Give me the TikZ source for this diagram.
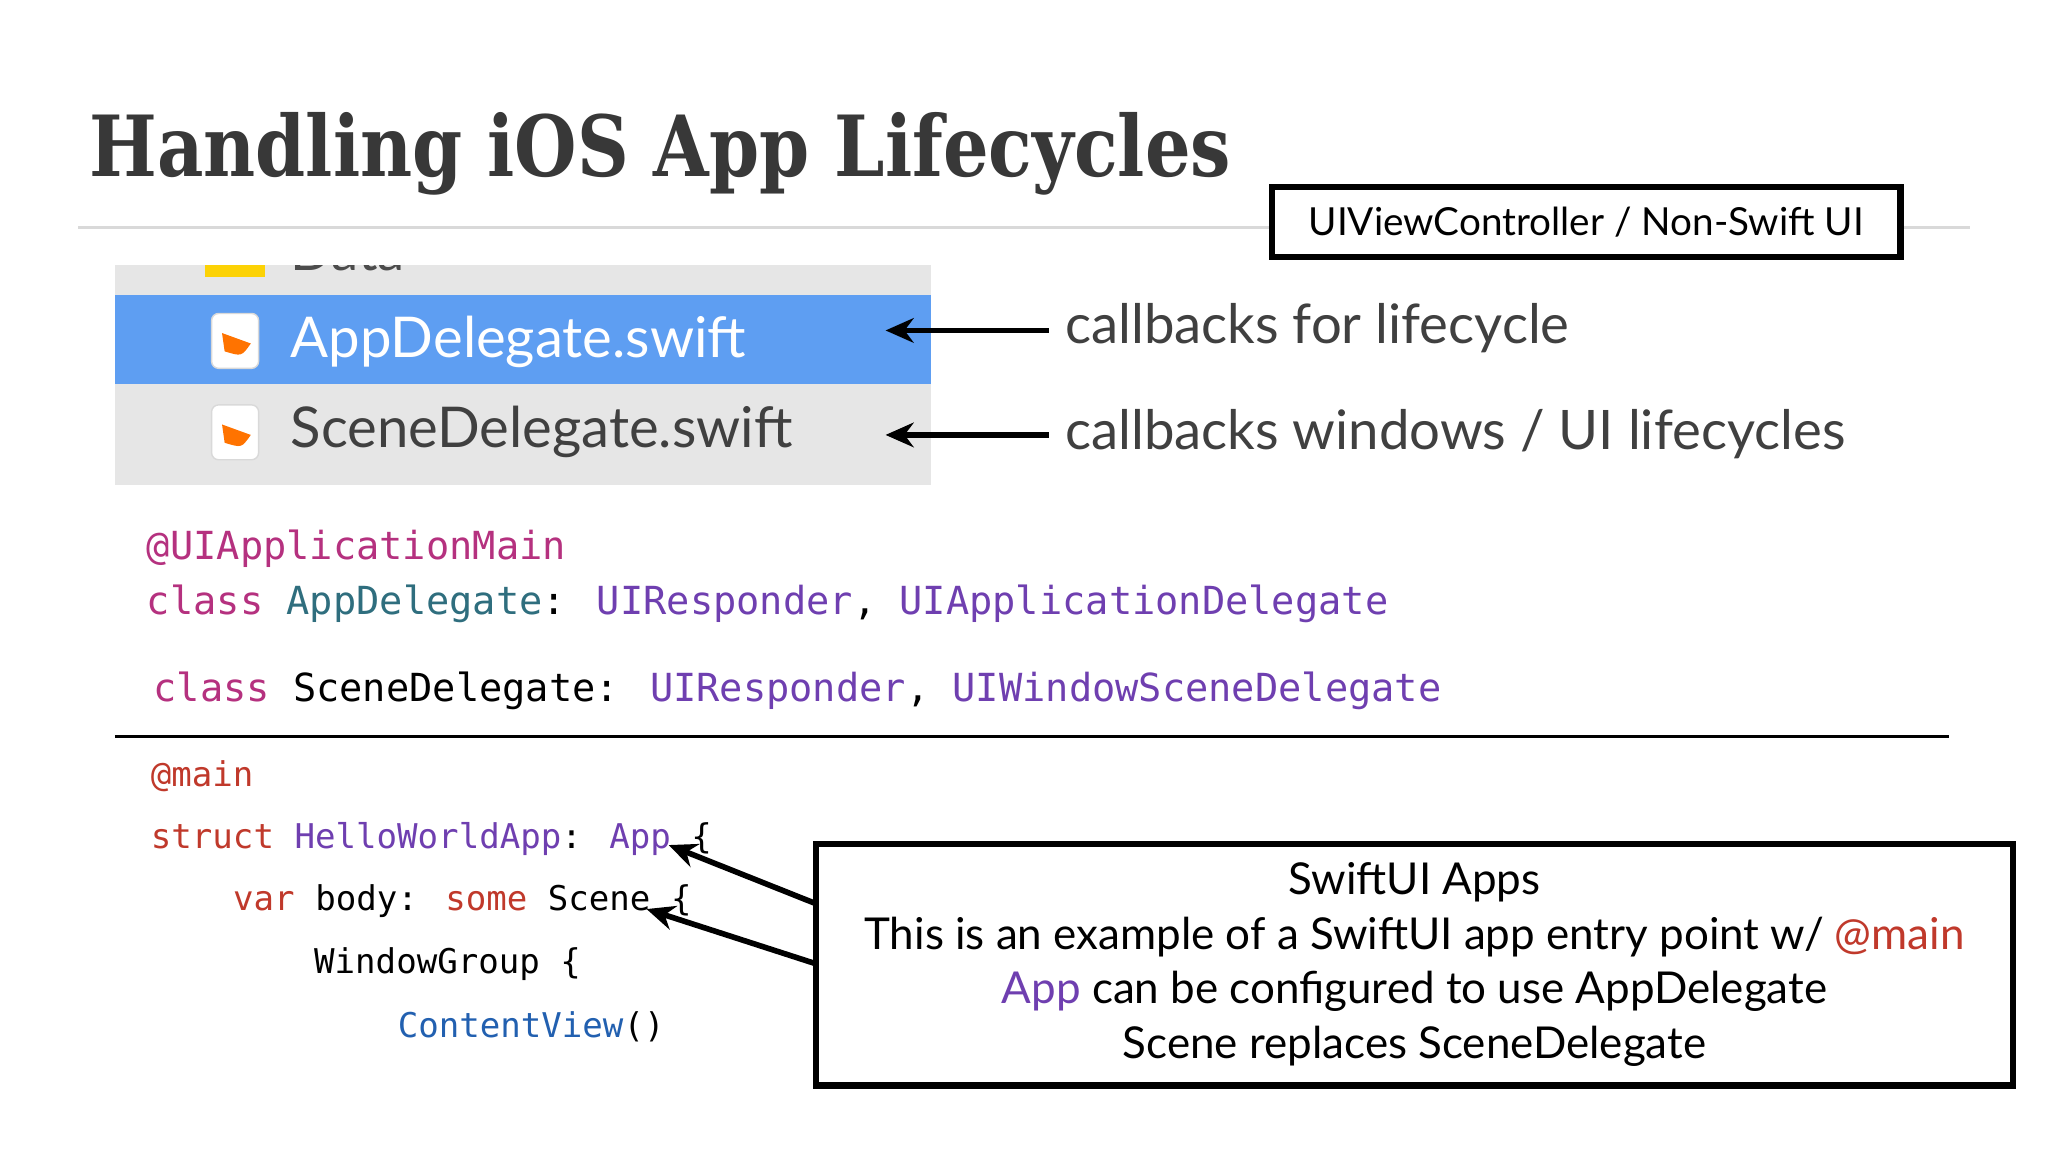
\documentclass[tikz,border=0pt]{standalone}
\usepackage{fontspec}
\setmainfont{Lato}
\newfontfamily\titlefont{DejaVu Serif}
\newfontfamily\codefont{DejaVu Sans Mono}
\usetikzlibrary{arrows.meta}
\definecolor{kw}{HTML}{B5317F}
\definecolor{ty}{HTML}{6F3FB0}
\definecolor{tl}{HTML}{2F6E7E}
\definecolor{rd}{HTML}{C0392B}
\definecolor{bl}{HTML}{2260B0}
\definecolor{sel}{HTML}{5E9EF2}
\definecolor{pan}{HTML}{E6E6E6}
\tikzset{
 lbl/.style={anchor=west,inner sep=0,font=\fontsize{15.5}{18}\selectfont,text=black!75},
 code/.style={anchor=west,inner sep=0,font=\codefont\fontsize{11}{13}\selectfont},
 codeb/.style={code,font=\codefont\fontsize{9.7}{12}\selectfont},
 arr/.style={line width=1.6pt,-{Stealth[length=8pt,width=7pt]}},
 box/.style={draw,line width=1.8pt,inner sep=0}
}
\begin{document}
\begin{tikzpicture}[x=0.01306cm,y=-0.01306cm]
\useasboundingbox[fill=white] (0,0) rectangle (1568,882);
\node[anchor=west,inner sep=0,xscale=0.85,font=\titlefont\bfseries\fontsize{24}{30}\selectfont,text=black!78] (title) at (68,118) {Handling iOS App Lifecycles};
\draw[black!15,line width=0.8pt] (60,174) -- (1508,174);
\node[box,fill=white,minimum width=481*0.01306cm,minimum height=54*0.01306cm,font=\fontsize{11}{14}\selectfont] (uivc) at (1214.5,170) {UIViewController / Non-Swift UI};
% panel
\fill[pan] (88,203) rectangle (713,371);
\begin{scope}
\clip (88,203) rectangle (713,371);
\fill[yellow!70!orange] (157,190) rectangle (203,212);
\node[lbl,text=black!70] (data) at (222,192) {Data};
\end{scope}
\fill[sel] (88,226) rectangle (713,294);
\foreach \yy/\nm in {261/ia,331/ib}{
 \fill[white,draw=black!15,rounded corners=2pt] (162,\yy-21) rectangle (198,\yy+21);
 \fill[orange!90!red] (170,\yy-6) -- (192,\yy+2) .. controls (185,\yy+12) .. (172,\yy+8) -- cycle;
}
\node[lbl,text=white,font=\fontsize{16}{19}\selectfont] (app) at (222,262) {AppDelegate.swift};
\node[lbl,font=\fontsize{16}{19}\selectfont] (scene) at (222,331) {SceneDelegate.swift};
\node[lbl] (cb1) at (815,251) {callbacks for lifecycle};
\node[lbl] (cb2) at (815,332) {callbacks windows / UI lifecycles};
\coordinate (t1) at (678,253);
\coordinate (t2) at (678,333);
\draw[arr] (cb1.west) ++(-12,2) coordinate (s1) -- (t1);
\draw[arr] (cb2.west) ++(-12,1) coordinate (s2) -- (t2);
% code top
\node[code,text=kw] (c1) at (112,420) {@UIApplicationMain};
\node[code] (c2) at (112,462) {\textcolor{kw}{class} \textcolor{tl}{AppDelegate}: \textcolor{ty}{UIResponder}, \textcolor{ty}{UIApplicationDelegate}};
\node[code] (c3) at (117,529) {\textcolor{kw}{class} SceneDelegate: \textcolor{ty}{UIResponder}, \textcolor{ty}{UIWindowSceneDelegate}};
\draw[line width=1pt] (88,564) -- (1492,564);
% code bottom
\node[codeb,text=rd] (d1) at (115,594) {@main};
\node[codeb] (d2) at (115,642) {\textcolor{rd}{struct} \textcolor{ty}{HelloWorldApp}: \textcolor{ty}{App} \{};
\node[codeb] (d3) at (178,690) {\textcolor{rd}{var} body: \textcolor{rd}{some} Scene \{};
\node[codeb] (d4) at (240,738) {WindowGroup \{};
\node[codeb] (d5) at (304,786) {\textcolor{bl}{ContentView}()};
\node[box,minimum width=916*0.01306cm,minimum height=185*0.01306cm,align=center,font=\fontsize{12.5}{15.5}\selectfont] (sw) at (1083,738.5)
{SwiftUI Apps\\This is an example of a SwiftUI app entry point w/ \textcolor{rd}{@main}\\\textcolor{ty}{App} can be configured to use AppDelegate\\Scene replaces SceneDelegate};
\coordinate (a1) at (512,647);
\coordinate (a2) at (495,696);
\draw[arr] (625,692) -- (a1);
\draw[arr] (625,738) -- (a2);
\end{tikzpicture}
\end{document}
